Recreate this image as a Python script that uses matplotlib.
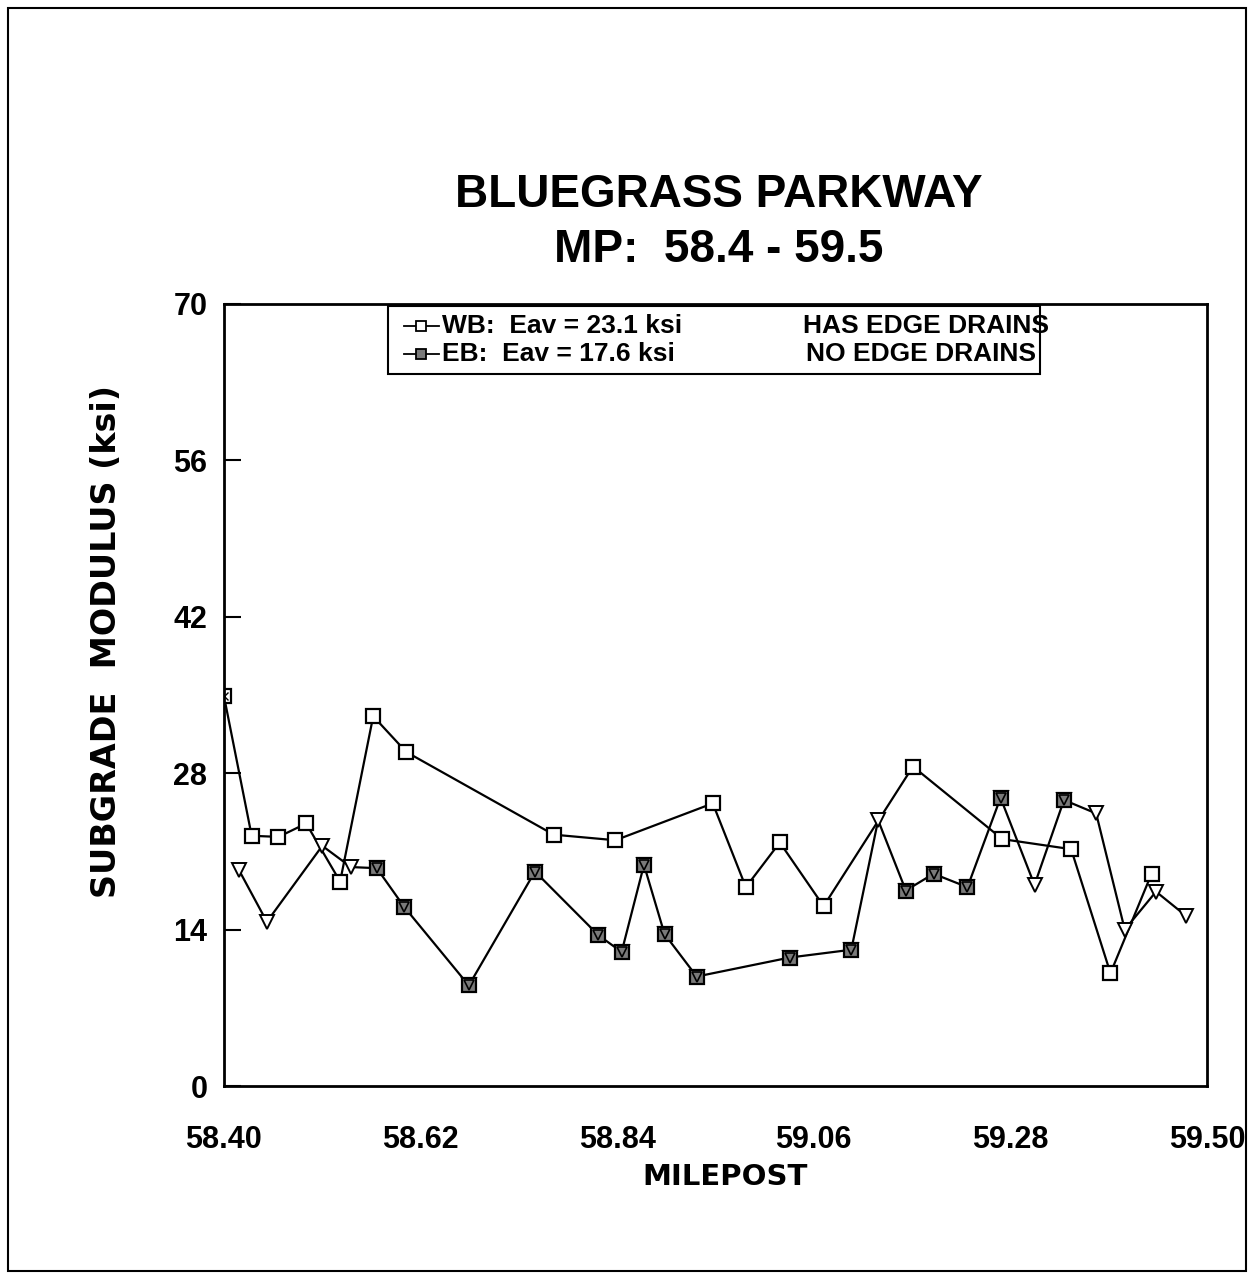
import matplotlib
matplotlib.use("Agg")
import matplotlib.pyplot as plt
from matplotlib.lines import Line2D
from matplotlib.patches import Rectangle

plt.rcParams['font.family'] = ['Liberation Sans', 'DejaVu Sans']
plt.rcParams['font.weight'] = 'bold'

# WB: has edge drains
wb_x = [58.400, 58.431, 58.461, 58.492, 58.530, 58.567, 58.604, 58.769, 58.838,
        58.947, 58.984, 59.022, 59.071, 59.171, 59.271, 59.348, 59.392, 59.438]
wb_y = [34.9, 22.4, 22.3, 23.5, 18.3, 33.1, 29.9, 22.5, 22.0,
        25.3, 17.8, 21.8, 16.1, 28.6, 22.1, 21.2, 10.1, 19.0]

# EB: no edge drains
eb_x = [58.417, 58.448, 58.510, 58.542, 58.571, 58.602, 58.674, 58.748, 58.819,
        58.845, 58.870, 58.893, 58.929, 59.033, 59.102, 59.132, 59.163, 59.194,
        59.232, 59.269, 59.307, 59.340, 59.376, 59.408, 59.443, 59.477]
eb_y = [19.3, 14.7, 21.5, 19.6, 19.5, 16.0, 9.0, 19.2, 13.5,
        12.0, 19.8, 13.6, 9.8, 11.5, 12.2, 23.8, 17.5, 19.0,
        17.8, 25.8, 18.0, 25.6, 24.4, 14.0, 17.4, 15.2]
# points printed with the boxed symbol (the rest show only the triangle)
eb_boxed = [4, 5, 6, 7, 8, 9, 10, 11, 12, 13, 14, 16, 17, 18, 19, 21]

x_ticks = [58.40, 58.62, 58.84, 59.06, 59.28, 59.50]
y_ticks = [0, 14, 28, 42, 56, 70]

fig = plt.figure(figsize=(12.54, 12.81), dpi=100)
ax = fig.add_axes([0.1786, 0.1522, 0.7839, 0.6105])

ax.plot(wb_x, wb_y, color='black', lw=1.6, marker='s', ms=10,
        mfc='white', mec='black', mew=1.6)
ax.plot(eb_x, eb_y, color='black', lw=1.6, marker='v', ms=10,
        mfc='white', mec='black', mew=1.4)
bx = [eb_x[i] for i in eb_boxed]
by = [eb_y[i] for i in eb_boxed]
ax.plot(bx, by, ls='none', marker='s', ms=10, mfc='#7a7a7a', mec='black', mew=1.6)
ax.plot(bx, by, ls='none', marker='v', ms=7, mfc='none', mec='black', mew=1.2)
ax.plot(wb_x[0], wb_y[0], ls='none', marker='x', ms=6, mec='black', mew=1.0)

ax.set_xlim(58.40, 59.50)
ax.set_ylim(0, 70)
ax.set_xticks(x_ticks)
ax.set_xticklabels([f"{v:.2f}" for v in x_ticks])
ax.set_yticks(y_ticks)
ax.tick_params(axis='y', direction='in', length=12, width=1.5, labelsize=22, pad=12)
ax.tick_params(axis='x', length=0, labelsize=22, pad=28)
for s in ax.spines.values():
    s.set_linewidth(2)

ax.set_xlabel("MILEPOST", fontsize=21, fontweight='bold', family='DejaVu Sans')
ax.xaxis.set_label_coords(0.51, -0.098)
ax.set_ylabel("SUBGRADE  MODULUS (ksi)", fontsize=24, fontweight='bold', family='DejaVu Sans')
ax.yaxis.set_label_coords(-0.103, 0.568)

fig.text(0.573, 0.848, "BLUEGRASS PARKWAY", ha='center', va='center',
         fontsize=33, fontweight='bold')
fig.text(0.573, 0.805, "MP:  58.4 - 59.5", ha='center', va='center',
         fontsize=33, fontweight='bold')

# legend box
ax.add_patch(Rectangle((0.167, 0.910), 0.663, 0.087, transform=ax.transAxes,
                       fill=False, lw=1.5, ec='black', zorder=5))
ax.add_line(Line2D([0.183, 0.219], [0.972, 0.972], transform=ax.transAxes,
                   color='black', lw=1.3))
ax.add_line(Line2D([0.200], [0.972], transform=ax.transAxes, ls='none',
                   marker='s', ms=7, mfc='white', mec='black', mew=1.3))
ax.add_line(Line2D([0.183, 0.219], [0.936, 0.936], transform=ax.transAxes,
                   color='black', lw=1.3))
ax.add_line(Line2D([0.200], [0.936], transform=ax.transAxes, ls='none',
                   marker='s', ms=7, mfc='#7a7a7a', mec='black', mew=1.3))
ax.text(0.222, 0.972, "WB:  Eav = 23.1 ksi", transform=ax.transAxes,
        fontsize=19, fontweight='bold', va='center')
ax.text(0.222, 0.936, "EB:  Eav = 17.6 ksi", transform=ax.transAxes,
        fontsize=19, fontweight='bold', va='center')
ax.text(0.589, 0.972, "HAS EDGE DRAINS", transform=ax.transAxes,
        fontsize=19, fontweight='bold', va='center', ha='left')
ax.text(0.592, 0.936, "NO EDGE DRAINS", transform=ax.transAxes,
        fontsize=19, fontweight='bold', va='center', ha='left')

# page frame
fig.patches.append(Rectangle((0.006, 0.008), 0.988, 0.986, transform=fig.transFigure,
                             fill=False, lw=1.5, ec='black'))

fig.savefig("out.png", dpi=100)
